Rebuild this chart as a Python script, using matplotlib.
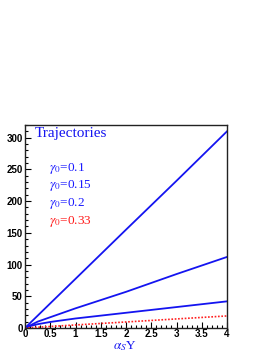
import matplotlib.pyplot as plt
from matplotlib.ticker import MultipleLocator, FormatStrFormatter

# trajectories for different gamma_0 values
x = [0, 0.1, 0.25, 0.5, 1, 2, 3, 4]
traj_01 = [0, 7.8, 19.4, 38.8, 77.5, 155, 232, 310]
traj_015 = [0, 4, 10, 17, 31, 57, 85, 112]
traj_02 = [0, 3, 6, 9.5, 15, 24, 33, 42]
traj_033 = [0, 0.5, 1.2, 2.4, 4.8, 9.5, 14.3, 19]

labels = [r'$\gamma_0$=0.1', r'$\gamma_0$=0.15', r'$\gamma_0$=0.2', r'$\gamma_0$=0.33']
label_colors = ['#1a1aff', '#1a1aff', '#1a1aff', '#ff1a1a']

plt.rcParams['mathtext.fontset'] = 'stix'

fig = plt.figure(figsize=(2.73, 3.53), dpi=100)
ax = fig.add_axes([25 / 273, 25 / 353, 202 / 273, 203 / 353])

blue = '#1414f0'
ax.plot(x, traj_01, color=blue, lw=1.3)
ax.plot(x, traj_015, color=blue, lw=1.3)
ax.plot(x, traj_02, color=blue, lw=1.3)
ax.plot(x, traj_033, color='#ff2020', lw=1.2, ls=(0, (1, 1)))

ax.set_xlim(0, 4)
ax.set_ylim(0, 320)
ax.xaxis.set_major_locator(MultipleLocator(0.5))
ax.xaxis.set_minor_locator(MultipleLocator(0.1))
ax.xaxis.set_major_formatter(FormatStrFormatter('%g'))
ax.yaxis.set_major_locator(MultipleLocator(50))
ax.yaxis.set_minor_locator(MultipleLocator(10))
ax.tick_params(which='both', direction='in', top=False, right=False,
               labelsize=7, pad=1.5, width=0.8)
ax.tick_params(axis='x', pad=1)
ax.tick_params(which='major', length=4)
ax.tick_params(which='minor', length=2)
for lab in ax.get_xticklabels() + ax.get_yticklabels():
    lab.set_fontweight('bold')
    lab.set_family('Liberation Sans')
for s in ax.spines.values():
    s.set_linewidth(1.0)
    s.set_color('#222222')

ax.text(35 / 273, 1 - 134 / 353, 'Trajectories', transform=fig.transFigure,
        fontsize=11, color=blue, family='Liberation Serif', va='center')
for i, (lab, c) in enumerate(zip(labels, label_colors)):
    ax.text(49 / 273, 1 - (168 + 17.8 * i) / 353, lab, transform=fig.transFigure,
            fontsize=9.5, color=c, family='Liberation Serif', va='center')

fig.text(125 / 273, 1 - 346.5 / 353, r'$\alpha_S$Y', fontsize=9.5, color=blue,
         family='Liberation Serif', ha='center', va='center')

fig.savefig('out.png', dpi=100)
